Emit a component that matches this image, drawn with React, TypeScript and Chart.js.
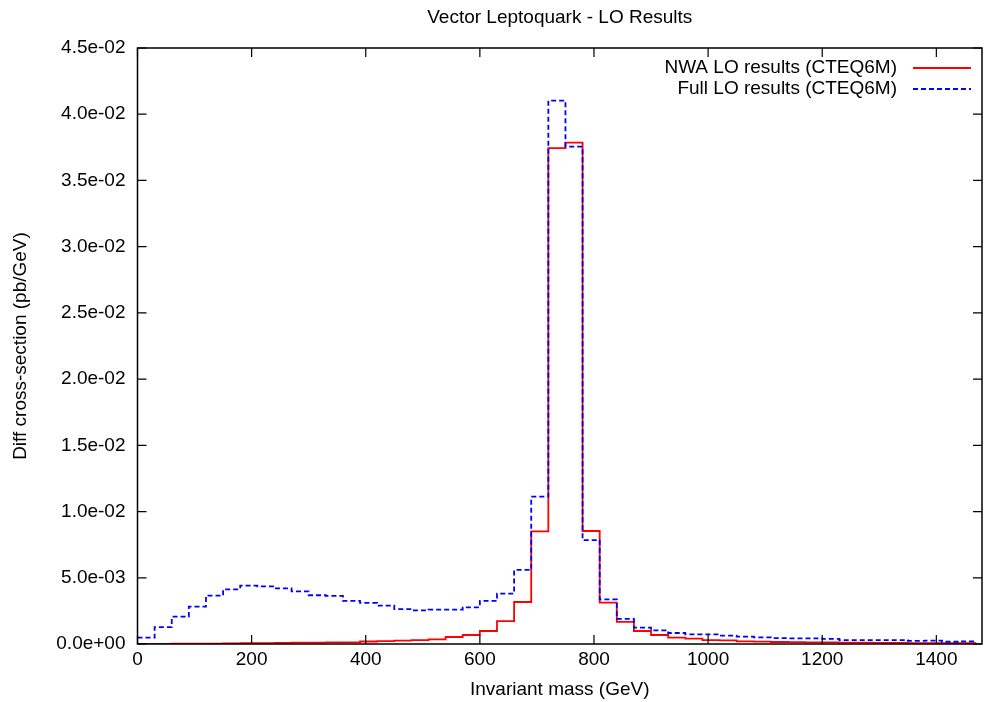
import { useEffect, useRef } from "react";
import { Chart, registerables } from "chart.js";

Chart.register(...registerables);

// Lower edges of the 30 GeV invariant-mass bins
const binLow = [
  0, 30, 60, 90, 120, 150, 180, 210, 240, 270,
  300, 330, 360, 390, 420, 450, 480, 510, 540, 570,
  600, 630, 660, 690, 720, 750, 780, 810, 840, 870,
  900, 930, 960, 990, 1020, 1050, 1080, 1110, 1140, 1170,
  1200, 1230, 1260, 1290, 1320, 1350, 1380, 1410, 1440,
];
const lastBinHigh = 1470;

// NWA LO results (CTEQ6M), pb/GeV
const nwaLO = [
  0.00001, 0.000015, 0.00002, 0.000025, 0.00003, 0.00005, 0.00006, 0.00007, 0.00008, 0.0001,
  0.0001, 0.00012, 0.00013, 0.00019, 0.00022, 0.00025, 0.0003, 0.00035, 0.00053, 0.00068,
  0.00098, 0.00172, 0.00317, 0.00851, 0.03744, 0.03786, 0.00853, 0.00312, 0.00167, 0.00098,
  0.00068, 0.00048, 0.0004, 0.0003, 0.00028, 0.0002, 0.00018, 0.00015, 0.00014, 0.00013,
  0.00012, 0.0001, 0.0001, 0.00009, 0.00008, 0.00007, 0.00007, 0.00006, 0.00006,
];

// Full LO results (CTEQ6M), pb/GeV
const fullLO = [
  0.00048, 0.00128, 0.00206, 0.00282, 0.00365, 0.00413, 0.0044, 0.00435, 0.0042, 0.00398,
  0.00368, 0.00363, 0.00325, 0.0031, 0.0029, 0.00264, 0.00254, 0.0026, 0.0026, 0.00277,
  0.00325, 0.0038, 0.00559, 0.01112, 0.04103, 0.03756, 0.00785, 0.00337, 0.00189, 0.00123,
  0.00103, 0.00083, 0.00073, 0.00073, 0.00063, 0.00055, 0.0005, 0.00045, 0.00043, 0.00043,
  0.00038, 0.0003, 0.0003, 0.0003, 0.0003, 0.00023, 0.00025, 0.00017, 0.0002,
];

const xTicks = [0, 200, 400, 600, 800, 1000, 1200, 1400];
const yTicks = [0, 0.005, 0.01, 0.015, 0.02, 0.025, 0.03, 0.035, 0.04, 0.045];

const titleText = "Vector Leptoquark - LO Results";
const xTitle = "Invariant mass (GeV)";
const yTitle = "Diff cross-section (pb/GeV)";
const seriesNames = ["NWA LO results (CTEQ6M)", "Full LO results (CTEQ6M)"];

const FONT = "'Liberation Sans', Arial, Helvetica, sans-serif";
const FS = 19;

function sciLabel(v: number): string {
  const s = Number(v).toExponential(1);
  const [m, e] = s.split("e");
  const sign = e.startsWith("-") ? "-" : "+";
  const digits = e.replace(/^[-+]/, "").padStart(2, "0");
  return `${m}e${sign}${digits}`;
}

function toSteps(vals: number[]) {
  const pts = binLow.map((x, i) => ({ x, y: vals[i] }));
  pts.push({ x: lastBinHigh, y: vals[vals.length - 1] });
  return pts;
}

const framePlugin = {
  id: "gnuFrame",
  afterDraw(chart: any) {
    const { ctx, chartArea: a, scales } = chart;
    ctx.save();
    ctx.strokeStyle = "#000";
    ctx.lineWidth = 1.5;
    ctx.strokeRect(a.left, a.top, a.right - a.left, a.bottom - a.top);
    ctx.lineWidth = 1.2;
    const tl = 9;
    ctx.beginPath();
    for (const t of scales.x.ticks) {
      const px = scales.x.getPixelForValue(t.value);
      ctx.moveTo(px, a.bottom);
      ctx.lineTo(px, a.bottom - tl);
      ctx.moveTo(px, a.top);
      ctx.lineTo(px, a.top + tl);
    }
    for (const t of scales.y.ticks) {
      const py = scales.y.getPixelForValue(t.value);
      ctx.moveTo(a.left, py);
      ctx.lineTo(a.left + tl, py);
      ctx.moveTo(a.right, py);
      ctx.lineTo(a.right - tl, py);
    }
    ctx.stroke();

    // title
    ctx.fillStyle = "#000";
    ctx.font = `${FS}px ${FONT}`;
    ctx.textAlign = "center";
    ctx.textBaseline = "middle";
    ctx.fillText(titleText, (a.left + a.right) / 2, 18);

    // legend (gnuplot style: right-aligned text, then line sample)
    const ds = chart.data.datasets;
    const rows = [
      { name: seriesNames[0], color: ds[1].borderColor, dash: [] as number[] },
      { name: seriesNames[1], color: ds[0].borderColor, dash: [5, 3] },
    ];
    rows.forEach((r, i) => {
      const y = 68 + i * 21;
      ctx.textAlign = "right";
      ctx.fillStyle = "#000";
      ctx.fillText(r.name, 897, y);
      ctx.beginPath();
      ctx.strokeStyle = r.color;
      ctx.lineWidth = 1.8;
      ctx.setLineDash(r.dash);
      ctx.moveTo(913, y);
      ctx.lineTo(971, y);
      ctx.stroke();
      ctx.setLineDash([]);
    });
    ctx.restore();
  },
};

export default function App() {
  const ref = useRef<HTMLCanvasElement | null>(null);

  useEffect(() => {
    if (!ref.current) return;
    const chart = new Chart(ref.current, {
      type: "line",
      data: {
        datasets: [
          {
            label: seriesNames[1],
            data: toSteps(fullLO),
            borderColor: "#0000ff",
            borderWidth: 1.8,
            borderDash: [5, 3],
            stepped: "before",
            pointRadius: 0,
            fill: false,
            order: 0,
          },
          {
            label: seriesNames[0],
            data: toSteps(nwaLO),
            borderColor: "#ff0000",
            borderWidth: 1.8,
            stepped: "before",
            pointRadius: 0,
            fill: false,
            order: 1,
          },
        ],
      },
      options: {
        responsive: false,
        animation: false,
        parsing: true,
        layout: { padding: { top: 48, right: 3, left: 0, bottom: 0 } },
        plugins: {
          legend: { display: false },
          title: { display: false },
          tooltip: { enabled: false },
        },
        scales: {
          x: {
            type: "linear",
            min: 0,
            max: 1480,
            grid: { display: false, drawTicks: false },
            border: { display: false },
            afterBuildTicks: (s: any) => {
              s.ticks = xTicks.map((v) => ({ value: v }));
            },
            afterFit: (s: any) => {
              s.height = 58;
            },
            ticks: {
              padding: 4,
              color: "#000",
              font: { family: FONT, size: FS },
              maxRotation: 0,
              callback: (v: any) => String(v),
            },
            title: {
              display: true,
              text: xTitle,
              color: "#000",
              font: { family: FONT, size: FS },
              padding: { top: 0, bottom: 1 },
            },
          },
          y: {
            type: "linear",
            min: 0,
            max: 0.045,
            grid: { display: false, drawTicks: false },
            border: { display: false },
            afterBuildTicks: (s: any) => {
              s.ticks = yTicks.map((v) => ({ value: v }));
            },
            afterFit: (s: any) => {
              s.width = 137.5;
            },
            ticks: {
              padding: 12,
              color: "#000",
              font: { family: FONT, size: FS },
              callback: (v: any) => sciLabel(Number(v)),
            },
            title: {
              display: true,
              text: yTitle,
              color: "#000",
              font: { family: FONT, size: FS },
              padding: { top: 9, bottom: 0 },
            },
          },
        },
      },
      plugins: [framePlugin],
    } as any);
    return () => chart.destroy();
  }, []);

  return (
    <div style={{ position: "fixed", left: 0, top: 0, width: 985, height: 702, background: "#fff" }}>
      <canvas ref={ref} width={985} height={702} style={{ width: 985, height: 702, display: "block" }} />
    </div>
  );
}
